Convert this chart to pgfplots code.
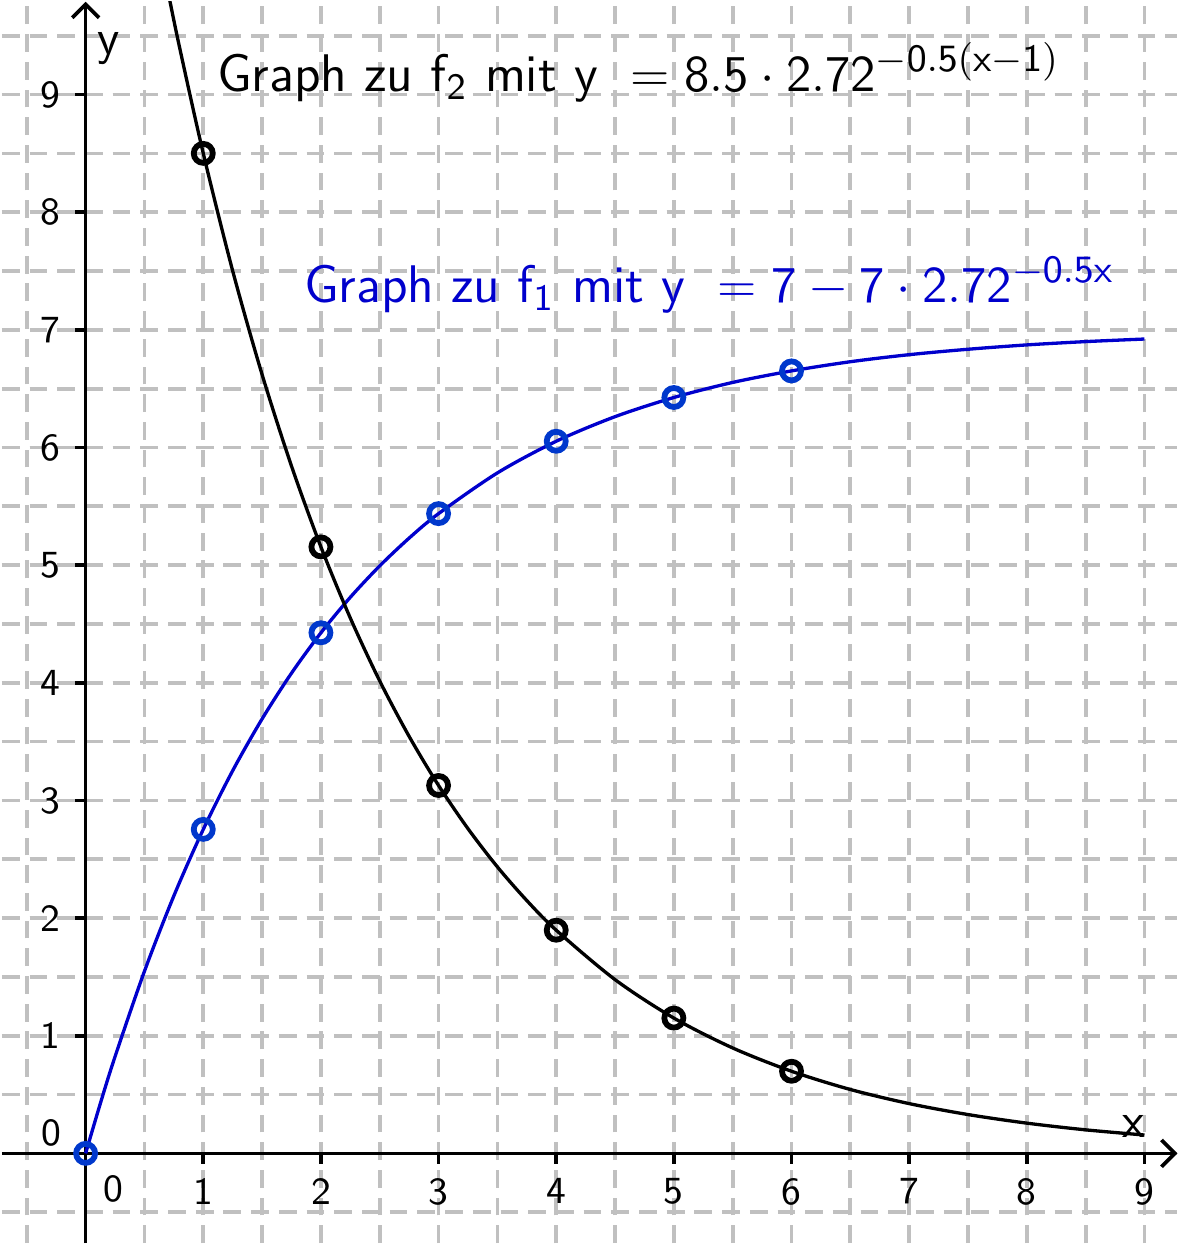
\documentclass[border=0pt]{standalone}
\usepackage{graphicx}
\usepackage{pgfplots}
\pgfplotsset{compat=1.18}
\usetikzlibrary{arrows.meta}

\definecolor{gridgray}{RGB}{192,192,192}
\definecolor{curveblue}{RGB}{0,0,204}
\definecolor{markblue}{RGB}{0,56,204}
\newcommand{\titlefont}{\sffamily\fontsize{12.8}{15}\selectfont}
\newcommand{\mathbig}{\fontsize{13.0}{15}\selectfont}

\begin{document}
\begin{tikzpicture}
\begin{axis}[
  scale only axis,
  width=9.992cm, height=10.551cm,
  xmin=-0.712, xmax=9.28,
  ymin=-0.763, ymax=9.788,
  axis lines=middle,
  axis line style={line width=0.9pt, -{Straight Barb[length=3.2pt,width=6.5pt]}},
  xtick={1,2,3,4,5,6,7,8,9},
  ytick={1,2,3,4,5,6,7,8,9},
  xticklabels={1,2,3,4,5,6,7,8,9},
  yticklabels={1,2,3,4,5,6,7,8,9},
  minor xtick={-0.5,0,...,9},
  minor ytick={-0.5,0,...,9.5},
  grid=both,
  major grid style={gridgray, line width=0.9pt, dash pattern=on 4.3pt off 2.4pt},
  minor grid style={gridgray, line width=0.9pt, dash pattern=on 4.3pt off 2.4pt},
  tick align=outside,
  major tick length=0.09cm,
  minor tick length=0pt,
  tick style={black, line width=0.9pt},
  ticklabel style={font=\sffamily\fontsize{9.3}{10}\selectfont},
  clip=true,
]
% f1 = 7 - 7*2.72^(-0.5x)
\addplot[curveblue, line width=0.8pt, smooth] coordinates {
  (0,0) (0.125,0.424) (0.25,0.8225) (0.5,1.548) (0.75,2.189) (1,2.754)
  (1.25,3.253) (1.5,3.693) (1.75,4.082) (2,4.425) (2.25,4.727) (2.5,4.994)
  (2.75,5.230) (3,5.438) (3.5,5.784) (4,6.053) (4.5,6.262) (5,6.425)
  (5.5,6.553) (6,6.651) (6.5,6.729) (7,6.789) (7.5,6.835) (8,6.872)
  (8.5,6.900) (9,6.922)
};
% f2 = 8.5*2.72^(-0.5(x-1))
\addplot[black, line width=0.8pt, smooth] coordinates {
  (0.6,10.38) (0.7,9.876) (0.8,9.394) (1,8.5) (1.25,7.501) (1.5,6.620)
  (1.75,5.842) (2,5.155) (2.25,4.550) (2.5,4.015) (2.75,3.544) (3,3.127)
  (3.25,2.760) (3.5,2.435) (3.75,2.149) (4,1.897) (4.5,1.477) (5,1.150)
  (5.5,0.896) (6,0.698) (6.5,0.543) (7,0.423) (7.5,0.330) (8,0.257)
  (8.5,0.200) (9,0.156)
};
% points
\addplot[only marks, mark=o, mark size=2.3pt, mark options={markblue, line width=1.4pt}] coordinates {
  (0,0) (1,2.754) (2,4.425) (3,5.438) (4,6.053) (5,6.425) (6,6.651)
};
\addplot[only marks, mark=o, mark size=2.3pt, mark options={black, line width=1.4pt}] coordinates {
  (1,8.5) (2,5.155) (3,3.127) (4,1.897) (5,1.150) (6,0.698)
};

\node[font=\sffamily\fontsize{9.3}{10}\selectfont] at (axis cs:0.237,-0.30) {0};
\node[font=\sffamily\fontsize{9.3}{10}\selectfont] at (axis cs:-0.29,0.17) {0};
\node[font=\sffamily\fontsize{12}{14}\selectfont] at (axis cs:0.195,9.39) {y};
\node[font=\sffamily\fontsize{12}{14}\selectfont] at (axis cs:8.91,0.23) {x};

\node[anchor=base west, inner sep=0pt] at (axis cs:1.11,9.025)
  {\titlefont Graph zu f$_{\mathsf{2}}$ mit y\hspace{0.62em}\scalebox{1.04}{\mathbig$=\mathsf{8.5}\cdot\mathsf{2.72}^{-\mathsf{0.5(x}-\mathsf{1)}}$}};
\node[anchor=base west, inner sep=0pt, text=curveblue] at (axis cs:1.85,7.23)
  {\titlefont Graph zu f$_{\mathsf{1}}$ mit y\hspace{0.62em}\scalebox{1.04}{\mathbig$=\mathsf{7}-\mathsf{7}\cdot\mathsf{2.72}^{-\mathsf{0.5x}}$}};
\end{axis}
\end{tikzpicture}
\end{document}
